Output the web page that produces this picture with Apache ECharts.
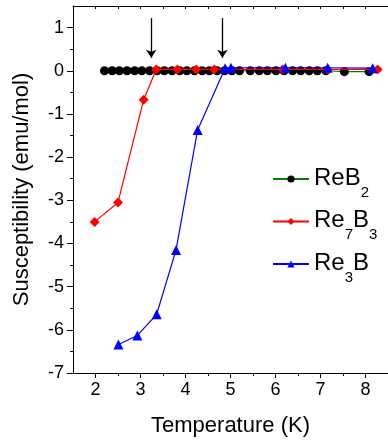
<!DOCTYPE html>
<html>
<head>
<meta charset="utf-8">
<script src="https://cdn.jsdelivr.net/npm/echarts@6/dist/echarts.min.js"></script>
<style>
  html, body { margin: 0; padding: 0; background: #fff; }
  #chart { width: 388px; height: 444px; }
</style>
</head>
<body>
<div id="chart"></div>
<script>
// values
const reb2T = [2.2, 2.37, 2.53, 2.7, 2.87, 3.03, 3.2, 3.37, 3.53, 3.7, 3.87, 4.03, 4.2, 4.37, 4.53, 4.7,
  4.87, 5.03, 5.2, 5.44, 5.64, 5.82, 6.01, 6.19, 6.38, 6.56, 6.75, 6.93, 7.12, 7.53, 8.08];
const reb2Chi = [0, 0, 0, 0, 0, 0, 0, 0, 0, 0, 0, 0, 0, 0, 0, 0,
  0, 0, 0, 0, 0, 0, 0, 0, 0, 0, 0, 0, 0, -0.02, -0.02];

const re7b3T = [1.98, 2.5, 3.07, 3.35, 3.82, 4.24, 4.64, 6.16, 7.16, 8.27];
const re7b3Chi = [-3.5, -3.05, -0.67, 0.03, 0.03, 0.03, 0.03, 0.03, 0.03, 0.03];

const re3bT = [2.51, 2.93, 3.36, 3.79, 4.27, 4.88, 5.01, 6.22, 7.16, 8.16];
const re3bChi = [-6.34, -6.13, -5.64, -4.15, -1.37, 0.06, 0.07, 0.07, 0.07, 0.06];

// arrows marking the transitions
const arrowT = [3.24, 4.82];
const arrowFrom = 1.22;
const arrowTo = 0.3;

// tick labels
const xTicks = [2, 3, 4, 5, 6, 7, 8];
const xMinor = [2.5, 3.5, 4.5, 5.5, 6.5, 7.5];
const yTicks = [-7, -6, -5, -4, -3, -2, -1, 0, 1];
const yMinor = [-6.5, -5.5, -4.5, -3.5, -2.5, -1.5, -0.5, 0.5];

const legendText = {
  ReB2: "{a|ReB}{s|2}",
  Re7B3: "{a|Re}{s|7}{a|B}{s|3}",
  Re3B: "{a|Re}{s|3}{a|B}",
};

const pairs = (xs, ys) => xs.map((x, i) => [x, ys[i]]);

const font = "'Liberation Sans', Arial, sans-serif";
const black = "#000";

const chart = echarts.init(document.getElementById("chart"), null, { renderer: "canvas" });

const baseX = {
  type: "value",
  min: 1.5,
  max: 8.5,
  interval: 0.5,
  splitLine: { show: false },
};
const baseY = {
  type: "value",
  min: -7,
  max: 1.5,
  interval: 0.5,
  splitLine: { show: false },
};

chart.setOption({
  animation: false,
  textStyle: { fontFamily: font },
  grid: { left: 73, right: 0, top: 6, bottom: 71, containLabel: false },
  legend: {
    orient: "vertical",
    left: 267,
    top: 161,
    itemWidth: 36,
    itemHeight: 9,
    itemGap: 8.5,
    data: ["ReB2", "Re7B3", "Re3B"],
    formatter: (name) => legendText[name],
    textStyle: {
      fontFamily: font,
      color: black,
      fontSize: 24,
      rich: {
        a: { fontFamily: font, fontSize: 24, lineHeight: 26, verticalAlign: "top", color: black },
        s: { fontFamily: font, fontSize: 15, lineHeight: 15, padding: [19, 0, 0, 0], verticalAlign: "top", color: black },
      },
    },
  },
  xAxis: [
    // main bottom axis: major ticks + labels
    {
      ...baseX,
      position: "bottom",
      name: "Temperature (K)",
      nameLocation: "middle",
      nameGap: 42,
      nameTextStyle: { fontFamily: font, fontSize: 22, color: black },
      axisLine: { onZero: false, lineStyle: { color: black, width: 1 } },
      axisTick: { customValues: xTicks, length: 5, lineStyle: { color: black } },
      axisLabel: { customValues: xTicks, fontSize: 18, color: black, margin: 8, fontFamily: font },
    },
    // minor ticks on the bottom
    {
      ...baseX,
      position: "bottom",
      offset: 0,
      axisLine: { show: false, onZero: false },
      axisTick: { customValues: xMinor, length: 3, lineStyle: { color: black } },
      axisLabel: { show: false },
    },
    // top frame with inward ticks
    {
      ...baseX,
      position: "top",
      axisLine: { onZero: false, lineStyle: { color: black, width: 1 } },
      axisTick: { inside: true, length: 3, lineStyle: { color: black } },
      axisLabel: { show: false },
    },
  ],
  yAxis: [
    {
      ...baseY,
      position: "left",
      name: "Susceptibility (emu/mol)",
      nameLocation: "middle",
      nameGap: 40,
      nameTextStyle: { fontFamily: font, fontSize: 22, color: black },
      axisLine: { show: true, onZero: false, lineStyle: { color: black, width: 1 } },
      axisTick: { show: true, customValues: yTicks, length: 6, lineStyle: { color: black } },
      axisLabel: { customValues: yTicks, fontSize: 18, color: black, margin: 9, fontFamily: font },
    },
    {
      ...baseY,
      position: "left",
      offset: 0,
      axisLine: { show: false, onZero: false },
      axisTick: { show: true, customValues: yMinor, length: 3, lineStyle: { color: black } },
      axisLabel: { show: false },
    },
  ],
  series: [
    {
      name: "ReB2",
      type: "line",
      data: pairs(reb2T, reb2Chi),
      symbol: "circle",
      symbolSize: 9,
      itemStyle: { color: black },
      lineStyle: { color: "#008000", width: 1.2 },
      z: 2,
      markLine: {
        silent: true,
        symbol: ["none", "arrow"],
        symbolSize: 8,
        label: { show: false },
        lineStyle: { color: black, width: 1.3, type: "solid" },
        data: arrowT.map((t) => [
          { coord: [t, arrowFrom], symbol: "none" },
          { coord: [t, arrowTo], symbol: "arrow" },
        ]),
      },
    },
    {
      name: "Re7B3",
      type: "line",
      data: pairs(re7b3T, re7b3Chi),
      symbol: "diamond",
      symbolSize: 10,
      itemStyle: { color: "#ff0000" },
      lineStyle: { color: "#ff0000", width: 1.2 },
      z: 3,
    },
    {
      name: "Re3B",
      type: "line",
      data: pairs(re3bT, re3bChi),
      symbol: "triangle",
      symbolSize: 10,
      itemStyle: { color: "#0000ff" },
      lineStyle: { color: "#0000ff", width: 1.2 },
      z: 4,
    },
  ],
});
</script>
</body>
</html>
